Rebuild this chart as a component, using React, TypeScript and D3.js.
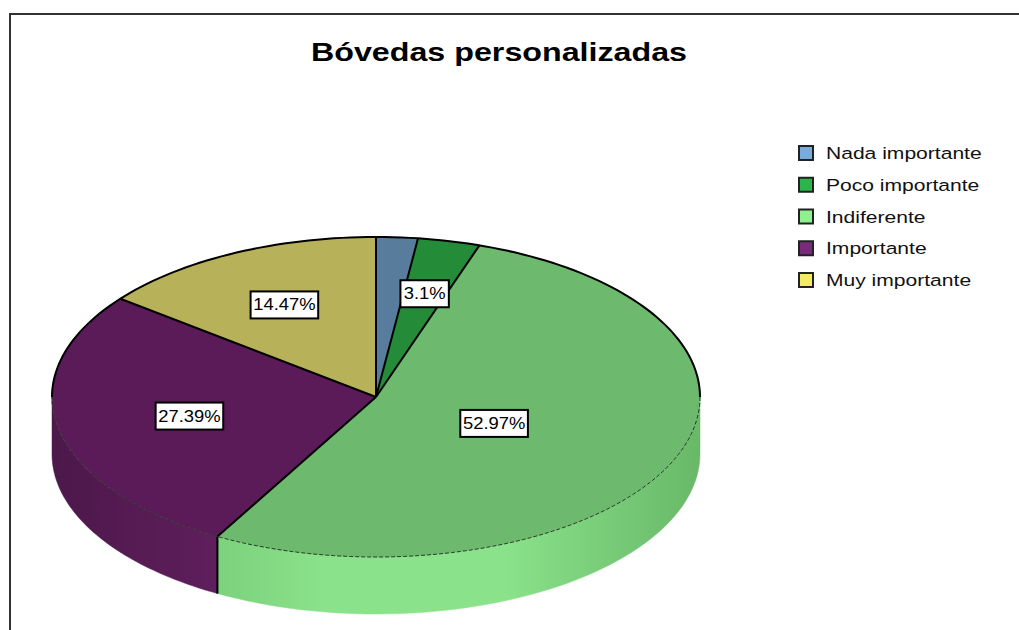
import React from 'react';
import * as d3 from 'd3';

// chart data
const categories = ['Nada importante', 'Poco importante', 'Indiferente', 'Importante', 'Muy importante'];
const percents = [2.07, 3.1, 52.97, 27.39, 14.47];
const labelTexts = ['', '3.1%', '52.97%', '27.39%', '14.47%'];
const chartTitle = 'Bóvedas personalizadas';

// colours: legend swatch, top face, side face (light / dark)
const legendColors = ['#78acdc', '#2cb54a', '#8ef08e', '#7a2a7a', '#f5ea64'];
const topColors = ['#587c9c', '#248b38', '#6dba6f', '#5a1b58', '#b7b25a'];
const sideLight = ['#6a94b8', '#2aa444', '#8ae28a', '#6c2268', '#d6d06a'];
const sideDark = ['#4a6a88', '#1c7a30', '#68b868', '#4c184a', '#a09c4c'];

const W = 1019;
const H = 630;
const cx = 376;
const cy = 397;
const rx = 324;
const ry = 160;
const depth = 57;
const SX = 1.24; // horizontal stretch of the text in the source picture

const App = () => {
  const pie = d3.pie<number>().sort(null).value(d => d).startAngle(0).endAngle(2 * Math.PI);
  const arcs = pie(percents);
  const arc = d3.arc<any>().innerRadius(0).outerRadius(rx);
  const k = ry / rx;

  const pt = (a: number, dy = 0): [number, number] => [cx + rx * Math.sin(a), cy - ry * Math.cos(a) + dy];

  const ellipseLine = d3.line();

  // visible side walls: front half, angles pi/2 .. 3pi/2
  const sides = arcs.map((a, i) => {
    const a0 = Math.max(a.startAngle, Math.PI / 2);
    const a1 = Math.min(a.endAngle, 1.5 * Math.PI);
    if (a1 <= a0) return null;
    const steps = d3.range(0, 61).map(j => a0 + (a1 - a0) * j / 60);
    const pts: [number, number][] = [
      ...steps.map(s => pt(s)),
      ...steps.slice().reverse().map(s => pt(s, depth)),
    ];
    return { i, d: ellipseLine(pts) + 'Z', a0, a1 };
  }).filter(Boolean) as { i: number; d: string; a0: number; a1: number }[];

  const frontEdge = ellipseLine(d3.range(0, 121).map(j => pt(Math.PI / 2 + Math.PI * j / 120)));
  const backEdge = ellipseLine(d3.range(0, 121).map(j => pt(-Math.PI / 2 + Math.PI * j / 120)));

  // label at the centroid of the sector
  const labelPos = (a: any): [number, number] => {
    const alpha = a.endAngle - a.startAngle;
    const mid = (a.startAngle + a.endAngle) / 2;
    const f = (2 / 3) * Math.sin(alpha / 2) / (alpha / 2);
    return [cx + rx * f * Math.sin(mid), cy - ry * f * Math.cos(mid)];
  };

  const legendY = d3.scalePoint<string>().domain(categories).range([153, 280]);

  const fontLabel = '"Liberation Sans", Arial, sans-serif';

  return (
    <svg width={W} height={H} style={{ position: 'absolute', left: 0, top: 0, background: '#fff' }}
      fontFamily={fontLabel}>
      <defs>
        {categories.map((c, i) => (
          <linearGradient key={c} id={`side${i}`} gradientUnits="userSpaceOnUse" x1={cx - rx} x2={cx + rx} y1={0} y2={0}>
            <stop offset="0" stopColor={sideDark[i]} />
            <stop offset="0.42" stopColor={sideLight[i]} />
            <stop offset="0.7" stopColor={sideLight[i]} />
            <stop offset="1" stopColor={sideDark[i]} />
          </linearGradient>
        ))}
      </defs>

      {/* frame */}
      <path d={`M10,${H} L10,14 L${W},14`} fill="none" stroke="#333" strokeWidth={2} />

      {/* title */}
      <text transform={`translate(499,61) scale(${SX},1)`} textAnchor="middle" fontSize={26} fontWeight="bold" fill="#000">
        {chartTitle}
      </text>

      {/* side walls */}
      {sides.map(s => (
        <path key={s.i} d={s.d} fill={`url(#side${s.i})`} stroke={`url(#side${s.i})`} strokeWidth={0.5} />
      ))}
      {sides.map(s => {
        if (s.a0 <= Math.PI / 2) return null;
        const [x, y] = pt(s.a0);
        return <line key={`e${s.i}`} x1={x} y1={y} x2={x} y2={y + depth} stroke="#000" strokeWidth={2} />;
      })}

      {/* top face */}
      <g transform={`translate(${cx},${cy}) scale(1,${k})`}>
        {arcs.map((a, i) => (
          <path key={i} d={arc(a) || ''} fill={topColors[i]} stroke={topColors[i]} strokeWidth={0.5}
            vectorEffect="non-scaling-stroke" />
        ))}
      </g>
      {/* outline: back solid, front dashed */}
      <path d={frontEdge || ''} fill="none" stroke="#2a3a2a" strokeWidth={1} strokeDasharray="4,2" />
      <path d={backEdge || ''} fill="none" stroke="#000" strokeWidth={2} />
      {arcs.map((a, i) => {
        const [x, y] = pt(a.startAngle);
        return <line key={`r${i}`} x1={cx} y1={cy} x2={x} y2={y} stroke="#000" strokeWidth={2} />;
      })}

      {/* labels */}
      {arcs.map((a, i) => {
        if (!labelTexts[i]) return null;
        const [x, y] = labelPos(a);
        const tw = labelTexts[i].length * 9.6 + 4;
        return (
          <g key={`l${i}`}>
            <rect x={x - tw / 2 - 3} y={y - 13} width={tw + 6} height={27} fill="#fff" stroke="#000" strokeWidth={2} />
            <text transform={`translate(${x},${y + 6}) scale(1.15,1)`} textAnchor="middle" fontSize={16} fill="#000">
              {labelTexts[i]}
            </text>
          </g>
        );
      })}

      {/* legend */}
      {categories.map((c, i) => {
        const y = legendY(c) || 0;
        return (
          <g key={`lg${i}`}>
            <rect x={799} y={y - 7} width={14} height={14} fill={legendColors[i]} stroke="#222" strokeWidth={2} />
            <text transform={`translate(826,${y + 6}) scale(${SX},1)`} fontSize={17} fill="#111">{c}</text>
          </g>
        );
      })}
    </svg>
  );
};

export default App;
